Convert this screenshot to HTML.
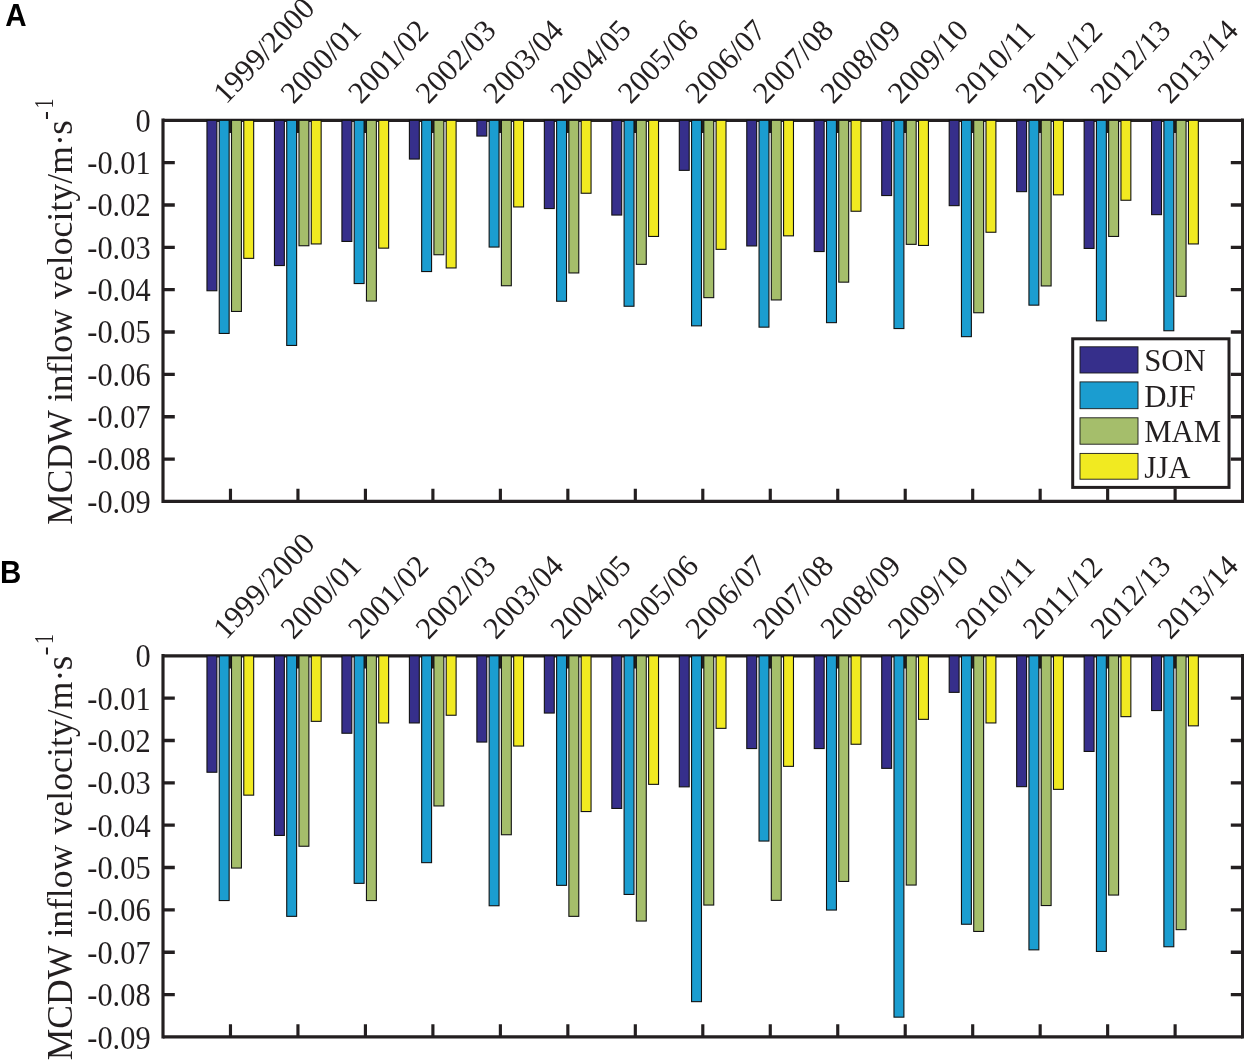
<!DOCTYPE html>
<html><head><meta charset="utf-8"><title>MCDW inflow velocity</title>
<style>
html,body{margin:0;padding:0;background:#fff}
svg{display:block;will-change:transform}
text{font-family:"Liberation Serif",serif;fill:#231f20}
.pl{font-family:"Liberation Sans",sans-serif;font-weight:bold;fill:#000}
</style></head><body>
<svg width="1244" height="1060" viewBox="0 0 1244 1060">
<rect width="1244" height="1060" fill="#fff"/>
<path d="M230.47 120.30v12.6M230.47 501.40v-12.6M297.95 120.30v12.6M297.95 501.40v-12.6M365.42 120.30v12.6M365.42 501.40v-12.6M432.90 120.30v12.6M432.90 501.40v-12.6M500.38 120.30v12.6M500.38 501.40v-12.6M567.85 120.30v12.6M567.85 501.40v-12.6M635.32 120.30v12.6M635.32 501.40v-12.6M702.80 120.30v12.6M702.80 501.40v-12.6M770.27 120.30v12.6M770.27 501.40v-12.6M837.75 120.30v12.6M837.75 501.40v-12.6M905.22 120.30v12.6M905.22 501.40v-12.6M972.70 120.30v12.6M972.70 501.40v-12.6M1040.17 120.30v12.6M1040.17 501.40v-12.6M1107.65 120.30v12.6M1107.65 501.40v-12.6M1175.12 120.30v12.6M1175.12 501.40v-12.6M163.00 118.62V503.07M1242.60 118.62V503.07" stroke="#231f20" stroke-width="3.15" fill="none"/>
<path d="M163.00 162.64h11.8M1242.60 162.64h-11.8M163.00 204.99h11.8M1242.60 204.99h-11.8M163.00 247.33h11.8M1242.60 247.33h-11.8M163.00 289.68h11.8M1242.60 289.68h-11.8M163.00 332.02h11.8M1242.60 332.02h-11.8M163.00 374.37h11.8M1242.60 374.37h-11.8M163.00 416.71h11.8M1242.60 416.71h-11.8M163.00 459.06h11.8M1242.60 459.06h-11.8M163.00 120.30H1242.60M163.00 501.40H1242.60" stroke="#231f20" stroke-width="3.35" fill="none"/>
<rect x="206.97" y="120.30" width="9.90" height="170.45" fill="#362f8b" stroke="#121212" stroke-width="1.1"/>
<rect x="219.24" y="120.30" width="9.90" height="213.15" fill="#1b9dd0" stroke="#121212" stroke-width="1.1"/>
<rect x="231.51" y="120.30" width="9.90" height="191.15" fill="#a5be6b" stroke="#121212" stroke-width="1.1"/>
<rect x="243.78" y="120.30" width="9.90" height="138.05" fill="#f1ea21" stroke="#121212" stroke-width="1.1"/>
<rect x="274.45" y="120.30" width="9.90" height="145.25" fill="#362f8b" stroke="#121212" stroke-width="1.1"/>
<rect x="286.72" y="120.30" width="9.90" height="225.15" fill="#1b9dd0" stroke="#121212" stroke-width="1.1"/>
<rect x="298.98" y="120.30" width="9.90" height="125.45" fill="#a5be6b" stroke="#121212" stroke-width="1.1"/>
<rect x="311.25" y="120.30" width="9.90" height="123.65" fill="#f1ea21" stroke="#121212" stroke-width="1.1"/>
<rect x="341.92" y="120.30" width="9.90" height="121.15" fill="#362f8b" stroke="#121212" stroke-width="1.1"/>
<rect x="354.19" y="120.30" width="9.90" height="163.25" fill="#1b9dd0" stroke="#121212" stroke-width="1.1"/>
<rect x="366.46" y="120.30" width="9.90" height="180.75" fill="#a5be6b" stroke="#121212" stroke-width="1.1"/>
<rect x="378.73" y="120.30" width="9.90" height="127.85" fill="#f1ea21" stroke="#121212" stroke-width="1.1"/>
<rect x="409.40" y="120.30" width="9.90" height="38.75" fill="#362f8b" stroke="#121212" stroke-width="1.1"/>
<rect x="421.67" y="120.30" width="9.90" height="151.25" fill="#1b9dd0" stroke="#121212" stroke-width="1.1"/>
<rect x="433.93" y="120.30" width="9.90" height="134.45" fill="#a5be6b" stroke="#121212" stroke-width="1.1"/>
<rect x="446.20" y="120.30" width="9.90" height="147.65" fill="#f1ea21" stroke="#121212" stroke-width="1.1"/>
<rect x="476.87" y="120.30" width="9.90" height="15.75" fill="#362f8b" stroke="#121212" stroke-width="1.1"/>
<rect x="489.14" y="120.30" width="9.90" height="126.75" fill="#1b9dd0" stroke="#121212" stroke-width="1.1"/>
<rect x="501.41" y="120.30" width="9.90" height="165.45" fill="#a5be6b" stroke="#121212" stroke-width="1.1"/>
<rect x="513.68" y="120.30" width="9.90" height="86.65" fill="#f1ea21" stroke="#121212" stroke-width="1.1"/>
<rect x="544.35" y="120.30" width="9.90" height="88.25" fill="#362f8b" stroke="#121212" stroke-width="1.1"/>
<rect x="556.62" y="120.30" width="9.90" height="180.95" fill="#1b9dd0" stroke="#121212" stroke-width="1.1"/>
<rect x="568.88" y="120.30" width="9.90" height="152.65" fill="#a5be6b" stroke="#121212" stroke-width="1.1"/>
<rect x="581.15" y="120.30" width="9.90" height="72.95" fill="#f1ea21" stroke="#121212" stroke-width="1.1"/>
<rect x="611.82" y="120.30" width="9.90" height="94.75" fill="#362f8b" stroke="#121212" stroke-width="1.1"/>
<rect x="624.09" y="120.30" width="9.90" height="185.95" fill="#1b9dd0" stroke="#121212" stroke-width="1.1"/>
<rect x="636.36" y="120.30" width="9.90" height="144.05" fill="#a5be6b" stroke="#121212" stroke-width="1.1"/>
<rect x="648.63" y="120.30" width="9.90" height="116.15" fill="#f1ea21" stroke="#121212" stroke-width="1.1"/>
<rect x="679.30" y="120.30" width="9.90" height="50.05" fill="#362f8b" stroke="#121212" stroke-width="1.1"/>
<rect x="691.57" y="120.30" width="9.90" height="205.55" fill="#1b9dd0" stroke="#121212" stroke-width="1.1"/>
<rect x="703.83" y="120.30" width="9.90" height="177.35" fill="#a5be6b" stroke="#121212" stroke-width="1.1"/>
<rect x="716.10" y="120.30" width="9.90" height="129.05" fill="#f1ea21" stroke="#121212" stroke-width="1.1"/>
<rect x="746.77" y="120.30" width="9.90" height="125.65" fill="#362f8b" stroke="#121212" stroke-width="1.1"/>
<rect x="759.04" y="120.30" width="9.90" height="206.85" fill="#1b9dd0" stroke="#121212" stroke-width="1.1"/>
<rect x="771.31" y="120.30" width="9.90" height="179.65" fill="#a5be6b" stroke="#121212" stroke-width="1.1"/>
<rect x="783.58" y="120.30" width="9.90" height="115.55" fill="#f1ea21" stroke="#121212" stroke-width="1.1"/>
<rect x="814.25" y="120.30" width="9.90" height="131.25" fill="#362f8b" stroke="#121212" stroke-width="1.1"/>
<rect x="826.52" y="120.30" width="9.90" height="202.35" fill="#1b9dd0" stroke="#121212" stroke-width="1.1"/>
<rect x="838.78" y="120.30" width="9.90" height="161.85" fill="#a5be6b" stroke="#121212" stroke-width="1.1"/>
<rect x="851.05" y="120.30" width="9.90" height="90.95" fill="#f1ea21" stroke="#121212" stroke-width="1.1"/>
<rect x="881.72" y="120.30" width="9.90" height="75.25" fill="#362f8b" stroke="#121212" stroke-width="1.1"/>
<rect x="893.99" y="120.30" width="9.90" height="208.25" fill="#1b9dd0" stroke="#121212" stroke-width="1.1"/>
<rect x="906.26" y="120.30" width="9.90" height="124.05" fill="#a5be6b" stroke="#121212" stroke-width="1.1"/>
<rect x="918.53" y="120.30" width="9.90" height="125.15" fill="#f1ea21" stroke="#121212" stroke-width="1.1"/>
<rect x="949.20" y="120.30" width="9.90" height="85.35" fill="#362f8b" stroke="#121212" stroke-width="1.1"/>
<rect x="961.47" y="120.30" width="9.90" height="216.35" fill="#1b9dd0" stroke="#121212" stroke-width="1.1"/>
<rect x="973.73" y="120.30" width="9.90" height="192.45" fill="#a5be6b" stroke="#121212" stroke-width="1.1"/>
<rect x="986.00" y="120.30" width="9.90" height="111.95" fill="#f1ea21" stroke="#121212" stroke-width="1.1"/>
<rect x="1016.67" y="120.30" width="9.90" height="71.35" fill="#362f8b" stroke="#121212" stroke-width="1.1"/>
<rect x="1028.94" y="120.30" width="9.90" height="184.85" fill="#1b9dd0" stroke="#121212" stroke-width="1.1"/>
<rect x="1041.21" y="120.30" width="9.90" height="165.65" fill="#a5be6b" stroke="#121212" stroke-width="1.1"/>
<rect x="1053.48" y="120.30" width="9.90" height="74.55" fill="#f1ea21" stroke="#121212" stroke-width="1.1"/>
<rect x="1084.15" y="120.30" width="9.90" height="128.15" fill="#362f8b" stroke="#121212" stroke-width="1.1"/>
<rect x="1096.42" y="120.30" width="9.90" height="200.55" fill="#1b9dd0" stroke="#121212" stroke-width="1.1"/>
<rect x="1108.68" y="120.30" width="9.90" height="116.15" fill="#a5be6b" stroke="#121212" stroke-width="1.1"/>
<rect x="1120.95" y="120.30" width="9.90" height="79.95" fill="#f1ea21" stroke="#121212" stroke-width="1.1"/>
<rect x="1151.62" y="120.30" width="9.90" height="94.35" fill="#362f8b" stroke="#121212" stroke-width="1.1"/>
<rect x="1163.89" y="120.30" width="9.90" height="210.45" fill="#1b9dd0" stroke="#121212" stroke-width="1.1"/>
<rect x="1176.16" y="120.30" width="9.90" height="176.05" fill="#a5be6b" stroke="#121212" stroke-width="1.1"/>
<rect x="1188.43" y="120.30" width="9.90" height="123.65" fill="#f1ea21" stroke="#121212" stroke-width="1.1"/>
<text transform="translate(150.6 131.60) scale(1 1.1)" text-anchor="end" font-size="30.4">0</text>
<text transform="translate(150.6 173.94) scale(1 1.1)" text-anchor="end" font-size="30.4">-0.01</text>
<text transform="translate(150.6 216.29) scale(1 1.1)" text-anchor="end" font-size="30.4">-0.02</text>
<text transform="translate(150.6 258.63) scale(1 1.1)" text-anchor="end" font-size="30.4">-0.03</text>
<text transform="translate(150.6 300.98) scale(1 1.1)" text-anchor="end" font-size="30.4">-0.04</text>
<text transform="translate(150.6 343.32) scale(1 1.1)" text-anchor="end" font-size="30.4">-0.05</text>
<text transform="translate(150.6 385.67) scale(1 1.1)" text-anchor="end" font-size="30.4">-0.06</text>
<text transform="translate(150.6 428.01) scale(1 1.1)" text-anchor="end" font-size="30.4">-0.07</text>
<text transform="translate(150.6 470.36) scale(1 1.1)" text-anchor="end" font-size="30.4">-0.08</text>
<text transform="translate(150.6 512.70) scale(1 1.1)" text-anchor="end" font-size="30.4">-0.09</text>
<text transform="translate(225.97 104.90) rotate(-46.5)" font-size="30.7">1999/2000</text>
<text transform="translate(293.45 104.90) rotate(-46.5)" font-size="30.7">2000/01</text>
<text transform="translate(360.92 104.90) rotate(-46.5)" font-size="30.7">2001/02</text>
<text transform="translate(428.40 104.90) rotate(-46.5)" font-size="30.7">2002/03</text>
<text transform="translate(495.88 104.90) rotate(-46.5)" font-size="30.7">2003/04</text>
<text transform="translate(563.35 104.90) rotate(-46.5)" font-size="30.7">2004/05</text>
<text transform="translate(630.82 104.90) rotate(-46.5)" font-size="30.7">2005/06</text>
<text transform="translate(698.30 104.90) rotate(-46.5)" font-size="30.7">2006/07</text>
<text transform="translate(765.77 104.90) rotate(-46.5)" font-size="30.7">2007/08</text>
<text transform="translate(833.25 104.90) rotate(-46.5)" font-size="30.7">2008/09</text>
<text transform="translate(900.72 104.90) rotate(-46.5)" font-size="30.7">2009/10</text>
<text transform="translate(968.20 104.90) rotate(-46.5)" font-size="30.7">2010/11</text>
<text transform="translate(1035.67 104.90) rotate(-46.5)" font-size="30.7">2011/12</text>
<text transform="translate(1103.15 104.90) rotate(-46.5)" font-size="30.7">2012/13</text>
<text transform="translate(1170.62 104.90) rotate(-46.5)" font-size="30.7">2013/14</text>
<text transform="translate(72.0 524.7) rotate(-90)" font-size="35.5">MCDW inflow <tspan dx="1.5" letter-spacing="0.12">velocity/</tspan>m·<tspan dx="-0.5" font-size="37.5">s</tspan><tspan font-size="27" dy="-18.65" dx="0.3">-</tspan></text>
<text transform="translate(53.35 108.6) rotate(-90) scale(0.74 1.03)" font-size="27">1</text>
<rect x="1072.7" y="338.8" width="156.3" height="148.6" fill="#fff" stroke="#231f20" stroke-width="3"/>
<rect x="1080.0" y="346.8" width="58.0" height="26.2" fill="#362f8b" stroke="#1a1a1a" stroke-width="0.9"/>
<text transform="translate(1144.2 370.7) scale(1 1.015)" font-size="30.8">SON</text>
<rect x="1080.0" y="381.9" width="58.0" height="26.8" fill="#1b9dd0" stroke="#1a1a1a" stroke-width="0.9"/>
<text transform="translate(1144.2 406.9) scale(1 1.015)" font-size="30.8">DJF</text>
<rect x="1080.0" y="417.8" width="58.0" height="26.4" fill="#a5be6b" stroke="#1a1a1a" stroke-width="0.9"/>
<text transform="translate(1144.2 442.1) scale(1 1.015)" font-size="30.8">MAM</text>
<rect x="1080.0" y="453.4" width="58.0" height="25.8" fill="#f1ea21" stroke="#1a1a1a" stroke-width="0.9"/>
<text transform="translate(1144.2 478.0) scale(1 1.015)" font-size="30.8">JJA</text>
<path d="M230.47 655.80v12.6M230.47 1036.90v-12.6M297.95 655.80v12.6M297.95 1036.90v-12.6M365.42 655.80v12.6M365.42 1036.90v-12.6M432.90 655.80v12.6M432.90 1036.90v-12.6M500.38 655.80v12.6M500.38 1036.90v-12.6M567.85 655.80v12.6M567.85 1036.90v-12.6M635.32 655.80v12.6M635.32 1036.90v-12.6M702.80 655.80v12.6M702.80 1036.90v-12.6M770.27 655.80v12.6M770.27 1036.90v-12.6M837.75 655.80v12.6M837.75 1036.90v-12.6M905.22 655.80v12.6M905.22 1036.90v-12.6M972.70 655.80v12.6M972.70 1036.90v-12.6M1040.17 655.80v12.6M1040.17 1036.90v-12.6M1107.65 655.80v12.6M1107.65 1036.90v-12.6M1175.12 655.80v12.6M1175.12 1036.90v-12.6M163.00 654.12V1038.57M1242.60 654.12V1038.57" stroke="#231f20" stroke-width="3.15" fill="none"/>
<path d="M163.00 698.14h11.8M1242.60 698.14h-11.8M163.00 740.49h11.8M1242.60 740.49h-11.8M163.00 782.83h11.8M1242.60 782.83h-11.8M163.00 825.18h11.8M1242.60 825.18h-11.8M163.00 867.52h11.8M1242.60 867.52h-11.8M163.00 909.87h11.8M1242.60 909.87h-11.8M163.00 952.21h11.8M1242.60 952.21h-11.8M163.00 994.56h11.8M1242.60 994.56h-11.8M163.00 655.80H1242.60M163.00 1036.90H1242.60" stroke="#231f20" stroke-width="3.35" fill="none"/>
<rect x="206.97" y="655.80" width="9.90" height="116.45" fill="#362f8b" stroke="#121212" stroke-width="1.1"/>
<rect x="219.24" y="655.80" width="9.90" height="244.75" fill="#1b9dd0" stroke="#121212" stroke-width="1.1"/>
<rect x="231.51" y="655.80" width="9.90" height="212.25" fill="#a5be6b" stroke="#121212" stroke-width="1.1"/>
<rect x="243.78" y="655.80" width="9.90" height="139.35" fill="#f1ea21" stroke="#121212" stroke-width="1.1"/>
<rect x="274.45" y="655.80" width="9.90" height="179.65" fill="#362f8b" stroke="#121212" stroke-width="1.1"/>
<rect x="286.72" y="655.80" width="9.90" height="260.55" fill="#1b9dd0" stroke="#121212" stroke-width="1.1"/>
<rect x="298.98" y="655.80" width="9.90" height="190.45" fill="#a5be6b" stroke="#121212" stroke-width="1.1"/>
<rect x="311.25" y="655.80" width="9.90" height="65.55" fill="#f1ea21" stroke="#121212" stroke-width="1.1"/>
<rect x="341.92" y="655.80" width="9.90" height="77.45" fill="#362f8b" stroke="#121212" stroke-width="1.1"/>
<rect x="354.19" y="655.80" width="9.90" height="227.55" fill="#1b9dd0" stroke="#121212" stroke-width="1.1"/>
<rect x="366.46" y="655.80" width="9.90" height="244.75" fill="#a5be6b" stroke="#121212" stroke-width="1.1"/>
<rect x="378.73" y="655.80" width="9.90" height="67.15" fill="#f1ea21" stroke="#121212" stroke-width="1.1"/>
<rect x="409.40" y="655.80" width="9.90" height="67.15" fill="#362f8b" stroke="#121212" stroke-width="1.1"/>
<rect x="421.67" y="655.80" width="9.90" height="206.85" fill="#1b9dd0" stroke="#121212" stroke-width="1.1"/>
<rect x="433.93" y="655.80" width="9.90" height="150.15" fill="#a5be6b" stroke="#121212" stroke-width="1.1"/>
<rect x="446.20" y="655.80" width="9.90" height="59.45" fill="#f1ea21" stroke="#121212" stroke-width="1.1"/>
<rect x="476.87" y="655.80" width="9.90" height="86.25" fill="#362f8b" stroke="#121212" stroke-width="1.1"/>
<rect x="489.14" y="655.80" width="9.90" height="249.95" fill="#1b9dd0" stroke="#121212" stroke-width="1.1"/>
<rect x="501.41" y="655.80" width="9.90" height="178.95" fill="#a5be6b" stroke="#121212" stroke-width="1.1"/>
<rect x="513.68" y="655.80" width="9.90" height="90.25" fill="#f1ea21" stroke="#121212" stroke-width="1.1"/>
<rect x="544.35" y="655.80" width="9.90" height="57.25" fill="#362f8b" stroke="#121212" stroke-width="1.1"/>
<rect x="556.62" y="655.80" width="9.90" height="229.55" fill="#1b9dd0" stroke="#121212" stroke-width="1.1"/>
<rect x="568.88" y="655.80" width="9.90" height="260.55" fill="#a5be6b" stroke="#121212" stroke-width="1.1"/>
<rect x="581.15" y="655.80" width="9.90" height="155.75" fill="#f1ea21" stroke="#121212" stroke-width="1.1"/>
<rect x="611.82" y="655.80" width="9.90" height="152.65" fill="#362f8b" stroke="#121212" stroke-width="1.1"/>
<rect x="624.09" y="655.80" width="9.90" height="238.65" fill="#1b9dd0" stroke="#121212" stroke-width="1.1"/>
<rect x="636.36" y="655.80" width="9.90" height="265.25" fill="#a5be6b" stroke="#121212" stroke-width="1.1"/>
<rect x="648.63" y="655.80" width="9.90" height="128.55" fill="#f1ea21" stroke="#121212" stroke-width="1.1"/>
<rect x="679.30" y="655.80" width="9.90" height="131.05" fill="#362f8b" stroke="#121212" stroke-width="1.1"/>
<rect x="691.57" y="655.80" width="9.90" height="345.85" fill="#1b9dd0" stroke="#121212" stroke-width="1.1"/>
<rect x="703.83" y="655.80" width="9.90" height="249.25" fill="#a5be6b" stroke="#121212" stroke-width="1.1"/>
<rect x="716.10" y="655.80" width="9.90" height="72.55" fill="#f1ea21" stroke="#121212" stroke-width="1.1"/>
<rect x="746.77" y="655.80" width="9.90" height="92.75" fill="#362f8b" stroke="#121212" stroke-width="1.1"/>
<rect x="759.04" y="655.80" width="9.90" height="185.25" fill="#1b9dd0" stroke="#121212" stroke-width="1.1"/>
<rect x="771.31" y="655.80" width="9.90" height="244.55" fill="#a5be6b" stroke="#121212" stroke-width="1.1"/>
<rect x="783.58" y="655.80" width="9.90" height="110.55" fill="#f1ea21" stroke="#121212" stroke-width="1.1"/>
<rect x="814.25" y="655.80" width="9.90" height="92.75" fill="#362f8b" stroke="#121212" stroke-width="1.1"/>
<rect x="826.52" y="655.80" width="9.90" height="254.25" fill="#1b9dd0" stroke="#121212" stroke-width="1.1"/>
<rect x="838.78" y="655.80" width="9.90" height="225.65" fill="#a5be6b" stroke="#121212" stroke-width="1.1"/>
<rect x="851.05" y="655.80" width="9.90" height="88.45" fill="#f1ea21" stroke="#121212" stroke-width="1.1"/>
<rect x="881.72" y="655.80" width="9.90" height="112.55" fill="#362f8b" stroke="#121212" stroke-width="1.1"/>
<rect x="893.99" y="655.80" width="9.90" height="361.35" fill="#1b9dd0" stroke="#121212" stroke-width="1.1"/>
<rect x="906.26" y="655.80" width="9.90" height="229.25" fill="#a5be6b" stroke="#121212" stroke-width="1.1"/>
<rect x="918.53" y="655.80" width="9.90" height="63.55" fill="#f1ea21" stroke="#121212" stroke-width="1.1"/>
<rect x="949.20" y="655.80" width="9.90" height="36.55" fill="#362f8b" stroke="#121212" stroke-width="1.1"/>
<rect x="961.47" y="655.80" width="9.90" height="268.45" fill="#1b9dd0" stroke="#121212" stroke-width="1.1"/>
<rect x="973.73" y="655.80" width="9.90" height="275.65" fill="#a5be6b" stroke="#121212" stroke-width="1.1"/>
<rect x="986.00" y="655.80" width="9.90" height="67.15" fill="#f1ea21" stroke="#121212" stroke-width="1.1"/>
<rect x="1016.67" y="655.80" width="9.90" height="130.85" fill="#362f8b" stroke="#121212" stroke-width="1.1"/>
<rect x="1028.94" y="655.80" width="9.90" height="294.05" fill="#1b9dd0" stroke="#121212" stroke-width="1.1"/>
<rect x="1041.21" y="655.80" width="9.90" height="249.75" fill="#a5be6b" stroke="#121212" stroke-width="1.1"/>
<rect x="1053.48" y="655.80" width="9.90" height="133.55" fill="#f1ea21" stroke="#121212" stroke-width="1.1"/>
<rect x="1084.15" y="655.80" width="9.90" height="95.65" fill="#362f8b" stroke="#121212" stroke-width="1.1"/>
<rect x="1096.42" y="655.80" width="9.90" height="295.65" fill="#1b9dd0" stroke="#121212" stroke-width="1.1"/>
<rect x="1108.68" y="655.80" width="9.90" height="239.25" fill="#a5be6b" stroke="#121212" stroke-width="1.1"/>
<rect x="1120.95" y="655.80" width="9.90" height="60.85" fill="#f1ea21" stroke="#121212" stroke-width="1.1"/>
<rect x="1151.62" y="655.80" width="9.90" height="54.75" fill="#362f8b" stroke="#121212" stroke-width="1.1"/>
<rect x="1163.89" y="655.80" width="9.90" height="290.95" fill="#1b9dd0" stroke="#121212" stroke-width="1.1"/>
<rect x="1176.16" y="655.80" width="9.90" height="273.85" fill="#a5be6b" stroke="#121212" stroke-width="1.1"/>
<rect x="1188.43" y="655.80" width="9.90" height="70.05" fill="#f1ea21" stroke="#121212" stroke-width="1.1"/>
<text transform="translate(150.6 667.40) scale(1 1.1)" text-anchor="end" font-size="30.4">0</text>
<text transform="translate(150.6 709.74) scale(1 1.1)" text-anchor="end" font-size="30.4">-0.01</text>
<text transform="translate(150.6 752.09) scale(1 1.1)" text-anchor="end" font-size="30.4">-0.02</text>
<text transform="translate(150.6 794.43) scale(1 1.1)" text-anchor="end" font-size="30.4">-0.03</text>
<text transform="translate(150.6 836.78) scale(1 1.1)" text-anchor="end" font-size="30.4">-0.04</text>
<text transform="translate(150.6 879.12) scale(1 1.1)" text-anchor="end" font-size="30.4">-0.05</text>
<text transform="translate(150.6 921.47) scale(1 1.1)" text-anchor="end" font-size="30.4">-0.06</text>
<text transform="translate(150.6 963.81) scale(1 1.1)" text-anchor="end" font-size="30.4">-0.07</text>
<text transform="translate(150.6 1006.16) scale(1 1.1)" text-anchor="end" font-size="30.4">-0.08</text>
<text transform="translate(150.6 1048.50) scale(1 1.1)" text-anchor="end" font-size="30.4">-0.09</text>
<text transform="translate(225.97 640.40) rotate(-46.5)" font-size="30.7">1999/2000</text>
<text transform="translate(293.45 640.40) rotate(-46.5)" font-size="30.7">2000/01</text>
<text transform="translate(360.92 640.40) rotate(-46.5)" font-size="30.7">2001/02</text>
<text transform="translate(428.40 640.40) rotate(-46.5)" font-size="30.7">2002/03</text>
<text transform="translate(495.88 640.40) rotate(-46.5)" font-size="30.7">2003/04</text>
<text transform="translate(563.35 640.40) rotate(-46.5)" font-size="30.7">2004/05</text>
<text transform="translate(630.82 640.40) rotate(-46.5)" font-size="30.7">2005/06</text>
<text transform="translate(698.30 640.40) rotate(-46.5)" font-size="30.7">2006/07</text>
<text transform="translate(765.77 640.40) rotate(-46.5)" font-size="30.7">2007/08</text>
<text transform="translate(833.25 640.40) rotate(-46.5)" font-size="30.7">2008/09</text>
<text transform="translate(900.72 640.40) rotate(-46.5)" font-size="30.7">2009/10</text>
<text transform="translate(968.20 640.40) rotate(-46.5)" font-size="30.7">2010/11</text>
<text transform="translate(1035.67 640.40) rotate(-46.5)" font-size="30.7">2011/12</text>
<text transform="translate(1103.15 640.40) rotate(-46.5)" font-size="30.7">2012/13</text>
<text transform="translate(1170.62 640.40) rotate(-46.5)" font-size="30.7">2013/14</text>
<text transform="translate(72.0 1060.2) rotate(-90)" font-size="35.5">MCDW inflow <tspan dx="1.5" letter-spacing="0.12">velocity/</tspan>m·<tspan dx="-0.5" font-size="37.5">s</tspan><tspan font-size="27" dy="-18.65" dx="0.3">-</tspan></text>
<text transform="translate(53.35 644.1) rotate(-90) scale(0.74 1.03)" font-size="27">1</text>
<text class="pl" transform="translate(5.3 26.05) scale(1 1.045)" font-size="29.6">A</text>
<text class="pl" transform="translate(0.1 583.05) scale(1 1.045)" font-size="29.5">B</text>
</svg>
</body></html>
